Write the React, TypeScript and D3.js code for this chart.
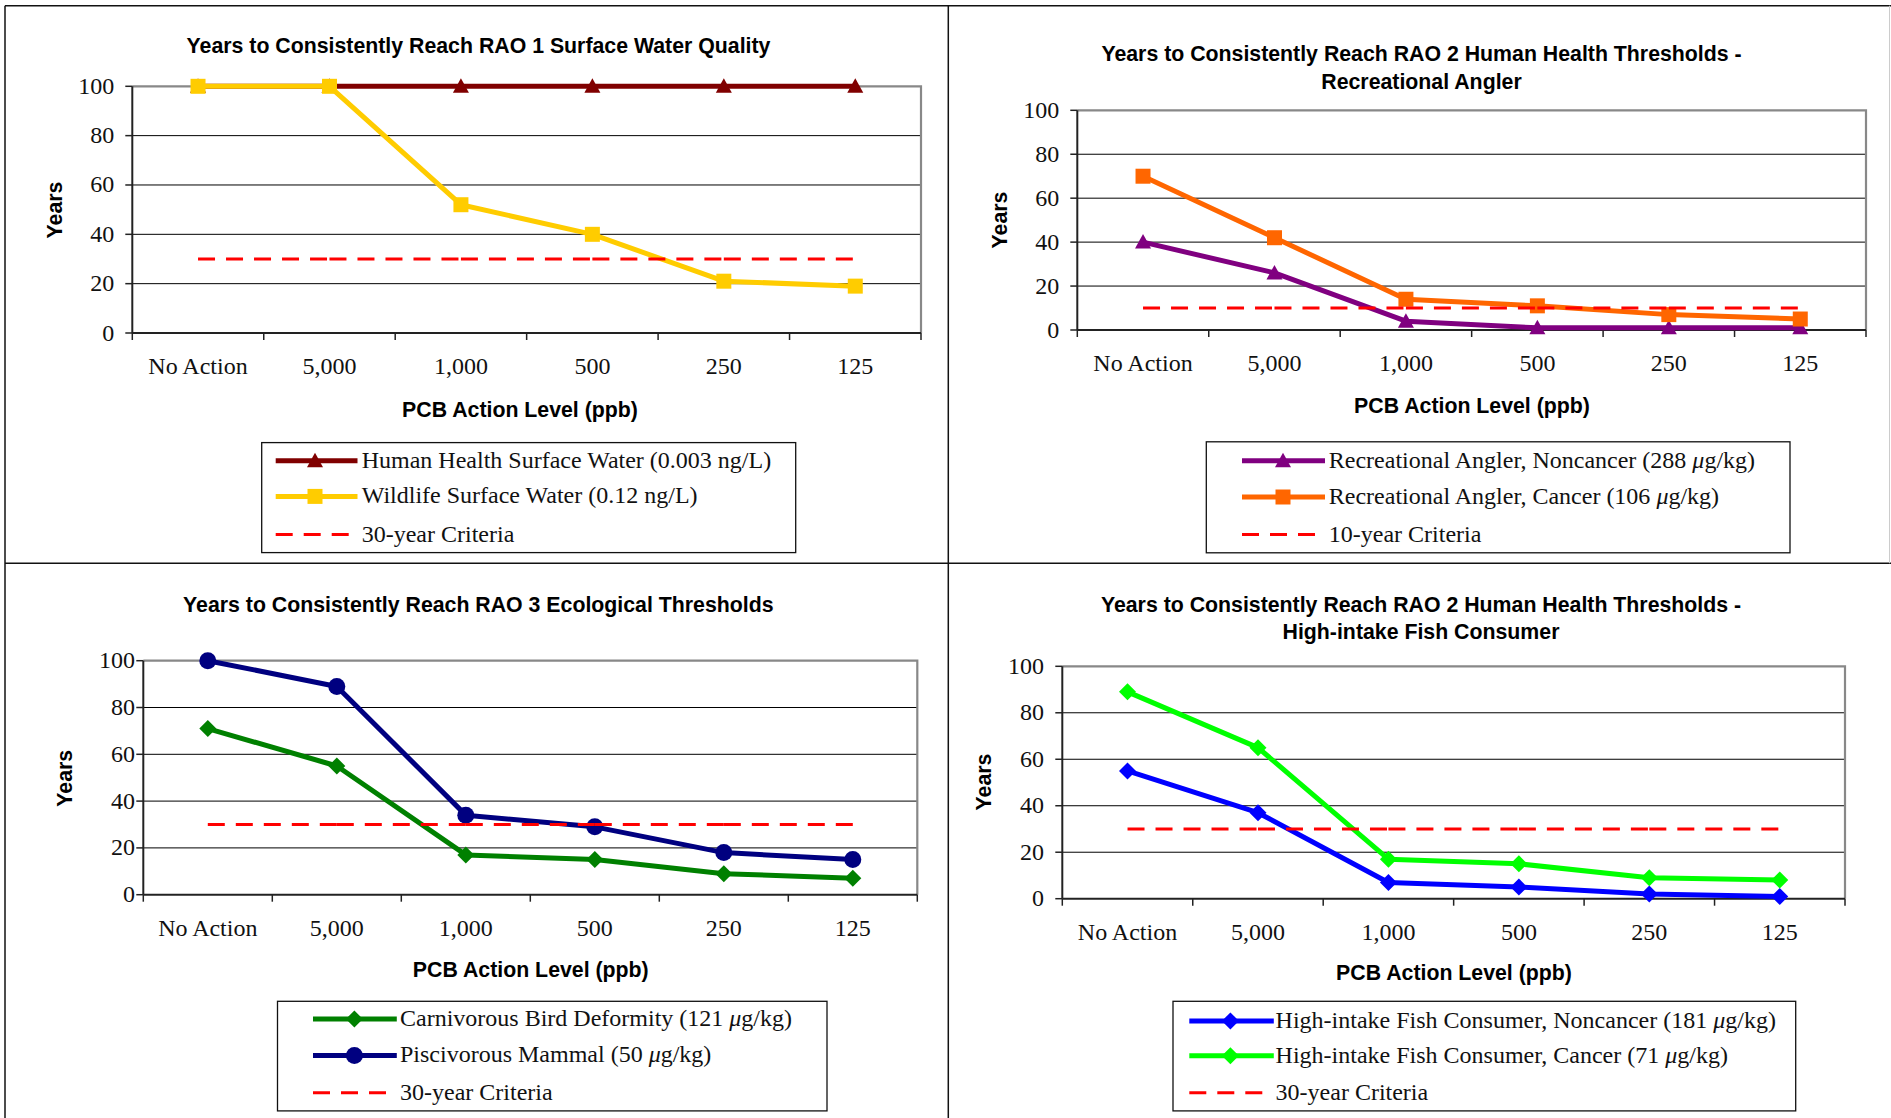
import React from "react";
import * as d3 from "d3";

// Category axis (PCB action level) and value ticks shared by all four charts
const categories = ["No Action", "5,000", "1,000", "500", "250", "125"];
const yTickValues = [0, 20, 40, 60, 80, 100];

// RAO 1 – surface water quality
const humanHealthSurfaceWater = [100, 100, 100, 100, 100, 100];
const wildlifeSurfaceWater = [100, 100, 52, 40, 21, 19];
const thirtyYearCriteria = [30, 30, 30, 30, 30, 30];

// RAO 2 – recreational angler
const anglerNoncancer = [40, 26, 4, 1, 1, 1];
const anglerCancer = [70, 42, 14, 11, 7, 5];
const tenYearCriteria = [10, 10, 10, 10, 10, 10];

// RAO 3 – ecological thresholds
const birdDeformity = [71, 55, 17, 15, 9, 7];
const piscivorousMammal = [100, 89, 34, 29, 18, 15];

// RAO 2 – high-intake fish consumer
const fishNoncancer = [55, 37, 7, 5, 2, 1];
const fishCancer = [89, 65, 17, 15, 9, 8];

const W = 1891;
const H = 1118;
const SANS = "'Liberation Sans', Arial, sans-serif";
const SERIF = "'Liberation Serif', 'Times New Roman', serif";
const CRITERIA_RED = "#FF0000";
const DASH = "17 11";

type Marker = "triangle" | "square" | "diamond" | "circle" | "none";

interface Series {
  label: string;
  values: number[];
  color: string;
  marker: Marker;
  dashed?: boolean;
}

interface Layout {
  plot: { x0: number; x1: number; yTop: number; yBot: number };
  yLabelRight: number;
  title: { cx: number; baselines: number[] };
  yTitle: { x: number; cy: number };
  xTickBaseline: number;
  xTitle: { cx: number; baseline: number };
  legend: {
    x: number;
    y: number;
    w: number;
    h: number;
    rows: number[];
    lineX0: number;
    lineX1: number;
    markerX: number;
    textX: number;
  };
}

function markerPath(kind: Marker, x: number, y: number): string {
  const p = d3.path();
  if (kind === "square") {
    p.rect(x - 7.5, y - 7.5, 15, 15);
  } else if (kind === "triangle") {
    p.moveTo(x, y - 8);
    p.lineTo(x + 8, y + 6.5);
    p.lineTo(x - 8, y + 6.5);
    p.closePath();
  } else if (kind === "diamond") {
    p.moveTo(x, y - 8.5);
    p.lineTo(x + 8.5, y);
    p.lineTo(x, y + 8.5);
    p.lineTo(x - 8.5, y);
    p.closePath();
  } else if (kind === "circle") {
    p.moveTo(x + 8.5, y);
    p.arc(x, y, 8.5, 0, Math.PI * 2);
    p.closePath();
  }
  return p.toString();
}

function LabelText({ text }: { text: string }) {
  const parts = text.split("μ");
  if (parts.length === 1) return <>{text}</>;
  return (
    <>
      {parts[0]}
      <tspan fontStyle="italic">μ</tspan>
      {parts[1]}
    </>
  );
}

function Panel({ layout, titleLines, series }: { layout: Layout; titleLines: string[]; series: Series[] }) {
  const { plot, legend } = layout;
  const x = d3.scaleBand<string>().domain(categories).range([plot.x0, plot.x1]).padding(0);
  const y = d3.scaleLinear().domain([0, 100]).range([plot.yBot, plot.yTop]);
  const cx = (i: number) => (x(categories[i]) as number) + x.bandwidth() / 2;
  const boundaries = [...categories.map((c) => x(c) as number), plot.x1];
  const line = d3
    .line<number>()
    .x((_, i) => cx(i))
    .y((d) => y(d));
  const segment = d3
    .line<[number, number]>()
    .x((d) => d[0])
    .y((d) => d[1]);

  return (
    <g>
      {titleLines.map((t, i) => (
        <text
          key={t}
          x={layout.title.cx}
          y={layout.title.baselines[i]}
          textAnchor="middle"
          fontFamily={SANS}
          fontWeight="bold"
          fontSize={21.3}
        >
          {t}
        </text>
      ))}

      {/* horizontal gridlines */}
      {yTickValues
        .filter((v) => v > 0 && v < 100)
        .map((v) => (
          <line key={v} x1={plot.x0} x2={plot.x1} y1={y(v)} y2={y(v)} stroke="#000" strokeWidth={1} />
        ))}

      {/* plot-area frame on top and right */}
      <path
        d={`M${plot.x0},${y(100)}H${plot.x1}V${plot.yBot}`}
        fill="none"
        stroke="#888"
        strokeWidth={2.2}
      />

      {/* value axis */}
      <line x1={plot.x0} x2={plot.x0} y1={plot.yTop} y2={plot.yBot} stroke="#222" strokeWidth={2} />
      {yTickValues.map((v) => (
        <g key={v}>
          <line x1={plot.x0 - 7} x2={plot.x0} y1={y(v)} y2={y(v)} stroke="#222" strokeWidth={1.5} />
          <text
            x={layout.yLabelRight}
            y={y(v) + 7.5}
            textAnchor="end"
            fontFamily={SERIF}
            fontSize={24}
            fill="#111"
          >
            {v}
          </text>
        </g>
      ))}

      {/* category axis */}
      <line x1={plot.x0} x2={plot.x1} y1={plot.yBot} y2={plot.yBot} stroke="#222" strokeWidth={2} />
      {boundaries.map((b, i) => (
        <line key={i} x1={b} x2={b} y1={plot.yBot} y2={plot.yBot + 7} stroke="#222" strokeWidth={1.5} />
      ))}
      {categories.map((c, i) => (
        <text
          key={c}
          x={cx(i)}
          y={layout.xTickBaseline}
          textAnchor="middle"
          fontFamily={SERIF}
          fontSize={24}
          fill="#111"
        >
          {c}
        </text>
      ))}

      {/* axis titles */}
      <text
        transform={`translate(${layout.yTitle.x},${layout.yTitle.cy}) rotate(-90)`}
        textAnchor="middle"
        fontFamily={SANS}
        fontWeight="bold"
        fontSize={21.3}
      >
        Years
      </text>
      <text
        x={layout.xTitle.cx}
        y={layout.xTitle.baseline}
        textAnchor="middle"
        fontFamily={SANS}
        fontWeight="bold"
        fontSize={21.3}
      >
        PCB Action Level (ppb)
      </text>

      {/* series */}
      {series.map((s) => {
        if (s.dashed) {
          const pts = s.values.map((v, i) => [cx(i), y(v)] as [number, number]);
          return (
            <g key={s.label}>
              {d3.pairs(pts).map((pair, i) => (
                <path
                  key={i}
                  d={segment(pair) as string}
                  fill="none"
                  stroke={s.color}
                  strokeWidth={3}
                  strokeDasharray={DASH}
                />
              ))}
            </g>
          );
        }
        return (
          <g key={s.label}>
            <path d={line(s.values) as string} fill="none" stroke={s.color} strokeWidth={5} strokeLinejoin="round" />
            {s.values.map((v, i) => (
              <path key={i} d={markerPath(s.marker, cx(i), y(v))} fill={s.color} />
            ))}
          </g>
        );
      })}

      {/* legend */}
      <rect x={legend.x} y={legend.y} width={legend.w} height={legend.h} fill="#fff" stroke="#111" strokeWidth={1.3} />
      {series.map((s, i) => {
        const ry = legend.rows[i];
        return (
          <g key={s.label}>
            {s.dashed ? (
              <path
                d={`M${legend.lineX0},${ry}H${legend.lineX0 + 73}`}
                stroke={s.color}
                strokeWidth={3}
                strokeDasharray={DASH}
              />
            ) : (
              <>
                <path d={`M${legend.lineX0},${ry}H${legend.lineX1}`} stroke={s.color} strokeWidth={5} />
                <path d={markerPath(s.marker, legend.markerX, ry)} fill={s.color} />
              </>
            )}
            <text x={legend.textX} y={ry + 7} fontFamily={SERIF} fontSize={24} fill="#111">
              <LabelText text={s.label} />
            </text>
          </g>
        );
      })}
    </g>
  );
}

const layoutRao1: Layout = {
  plot: { x0: 132.3, x1: 921, yTop: 86.3, yBot: 333 },
  yLabelRight: 114.3,
  title: { cx: 478.5, baselines: [53.3] },
  yTitle: { x: 61.7, cy: 210 },
  xTickBaseline: 374,
  xTitle: { cx: 520, baseline: 417 },
  legend: { x: 261.7, y: 442.6, w: 534, h: 110, rows: [460.7, 496.4, 534.6], lineX0: 275.7, lineX1: 357.5, markerX: 315, textX: 361.7 },
};

const layoutAngler: Layout = {
  plot: { x0: 1077.3, x1: 1866, yTop: 110.3, yBot: 330 },
  yLabelRight: 1059.3,
  title: { cx: 1421.5, baselines: [61, 89] },
  yTitle: { x: 1006.7, cy: 220 },
  xTickBaseline: 371,
  xTitle: { cx: 1472, baseline: 412.5 },
  legend: { x: 1206.3, y: 441.8, w: 583.7, h: 111, rows: [460.7, 497, 534.6], lineX0: 1242, lineX1: 1325, markerX: 1283, textX: 1328.8 },
};

const layoutRao3: Layout = {
  plot: { x0: 143.3, x1: 917.3, yTop: 660.7, yBot: 894.7 },
  yLabelRight: 135,
  title: { cx: 478.3, baselines: [611.7] },
  yTitle: { x: 71.7, cy: 778.3 },
  xTickBaseline: 936,
  xTitle: { cx: 530.8, baseline: 977 },
  legend: { x: 277.5, y: 1001.3, w: 549.5, h: 109.6, rows: [1019, 1055.4, 1092.7], lineX0: 313, lineX1: 396.8, markerX: 354.4, textX: 400 },
};

const layoutFish: Layout = {
  plot: { x0: 1062.3, x1: 1845, yTop: 666.3, yBot: 898.7 },
  yLabelRight: 1044,
  title: { cx: 1421, baselines: [611.7, 639] },
  yTitle: { x: 991, cy: 782 },
  xTickBaseline: 940,
  xTitle: { cx: 1454, baseline: 980 },
  legend: { x: 1173, y: 1001.3, w: 622.7, h: 109.6, rows: [1020.9, 1055.7, 1092.7], lineX0: 1189.3, lineX1: 1273.8, markerX: 1230.4, textX: 1275.6 },
};

const seriesRao1: Series[] = [
  { label: "Human Health Surface Water (0.003 ng/L)", values: humanHealthSurfaceWater, color: "#800000", marker: "triangle" },
  { label: "Wildlife Surface Water (0.12 ng/L)", values: wildlifeSurfaceWater, color: "#FFCC00", marker: "square" },
  { label: "30-year Criteria", values: thirtyYearCriteria, color: CRITERIA_RED, marker: "none", dashed: true },
];

const seriesAngler: Series[] = [
  { label: "Recreational Angler, Noncancer (288 μg/kg)", values: anglerNoncancer, color: "#800080", marker: "triangle" },
  { label: "Recreational Angler, Cancer (106 μg/kg)", values: anglerCancer, color: "#FF6600", marker: "square" },
  { label: "10-year Criteria", values: tenYearCriteria, color: CRITERIA_RED, marker: "none", dashed: true },
];

const seriesRao3: Series[] = [
  { label: "Carnivorous Bird Deformity (121 μg/kg)", values: birdDeformity, color: "#008000", marker: "diamond" },
  { label: "Piscivorous Mammal (50 μg/kg)", values: piscivorousMammal, color: "#000080", marker: "circle" },
  { label: "30-year Criteria", values: thirtyYearCriteria, color: CRITERIA_RED, marker: "none", dashed: true },
];

const seriesFish: Series[] = [
  { label: "High-intake Fish Consumer, Noncancer (181 μg/kg)", values: fishNoncancer, color: "#0000FF", marker: "diamond" },
  { label: "High-intake Fish Consumer, Cancer (71 μg/kg)", values: fishCancer, color: "#00FF00", marker: "diamond" },
  { label: "30-year Criteria", values: thirtyYearCriteria, color: CRITERIA_RED, marker: "none", dashed: true },
];

export default function App() {
  return (
    <svg
      width={W}
      height={H}
      viewBox={`0 0 ${W} ${H}`}
      style={{ position: "absolute", left: 0, top: 0, background: "#fff" }}
    >
      <rect x={0} y={0} width={W} height={H} fill="#fff" />

      {/* frame separating the four charts */}
      <g stroke="#111" strokeWidth={1.5}>
        <line x1={5} x2={W} y1={5.7} y2={5.7} />
        <line x1={5} x2={5} y1={5.7} y2={H} />
        <line x1={948.3} x2={948.3} y1={5.7} y2={H} />
        <line x1={5} x2={W} y1={563.3} y2={563.3} />
      </g>
      <line x1={1889.5} x2={1889.5} y1={5.7} y2={563.3} stroke="#ccc" strokeWidth={1} />

      <Panel
        layout={layoutRao1}
        titleLines={["Years to Consistently Reach RAO 1 Surface Water Quality"]}
        series={seriesRao1}
      />
      <Panel
        layout={layoutAngler}
        titleLines={["Years to Consistently Reach RAO 2 Human Health Thresholds -", "Recreational Angler"]}
        series={seriesAngler}
      />
      <Panel
        layout={layoutRao3}
        titleLines={["Years to Consistently Reach RAO 3 Ecological Thresholds"]}
        series={seriesRao3}
      />
      <Panel
        layout={layoutFish}
        titleLines={["Years to Consistently Reach RAO 2 Human Health Thresholds -", "High-intake Fish Consumer"]}
        series={seriesFish}
      />
    </svg>
  );
}
